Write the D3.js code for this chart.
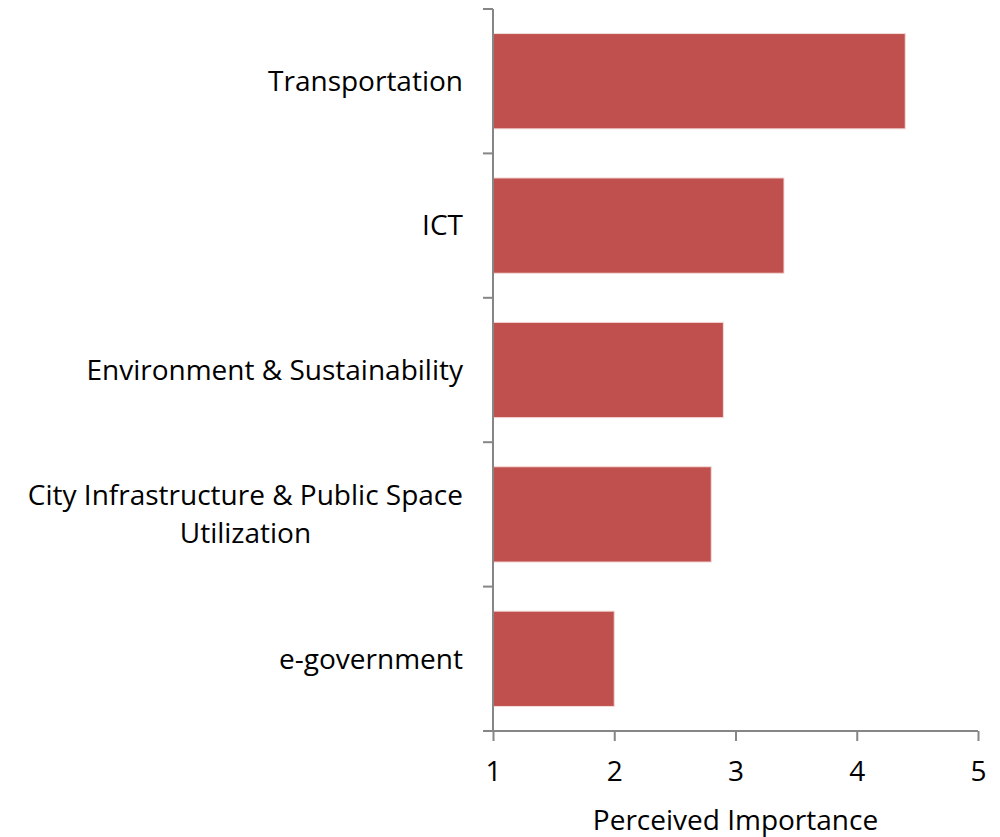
<!DOCTYPE html>
<html>
<head>
<meta charset="utf-8">
<script src="https://cdn.jsdelivr.net/npm/d3@7"></script>
<style>
  html, body { margin: 0; padding: 0; background: #fff; }
  svg text { font-family: "Open Sans", "Noto Sans", sans-serif; fill: #000; }
</style>
</head>
<body>
<svg id="chart" width="1000" height="837"></svg>
<script>
// Categories from top to bottom, with their perceived-importance scores
const categories = [
  "Transportation",
  "ICT",
  "Environment & Sustainability",
  "City Infrastructure & Public Space\nUtilization",
  "e-government"
];
const importance = [4.4, 3.4, 2.9, 2.8, 2.0];
const xTicks = [1, 2, 3, 4, 5];
const xTitle = "Perceived Importance";

const margin = { left: 493, right: 22, top: 9, bottom: 106 };
const width = 1000, height = 837;
const svg = d3.select("#chart");
const axisColor = "#868686";
const barColor = "#C0504D";

const x = d3.scaleLinear()
  .domain([1, 5])
  .range([margin.left, width - margin.right]);

const y = d3.scaleBand()
  .domain(categories)
  .range([margin.top, height - margin.bottom])
  .paddingInner(0.34)
  .paddingOuter(0.17);

// Bars start at the axis origin (value 1)
svg.append("g")
  .selectAll("rect")
  .data(categories)
  .join("rect")
  .attr("x", x(1))
  .attr("y", d => y(d))
  .attr("width", (d, i) => x(importance[i]) - x(1))
  .attr("height", y.bandwidth())
  .attr("fill", barColor)
  .attr("stroke", "#f4dcdb")
  .attr("stroke-width", 1);

// Vertical category axis: line plus tick marks at band boundaries
const yAxisG = svg.append("g");
yAxisG.append("line")
  .attr("x1", x(1)).attr("x2", x(1))
  .attr("y1", margin.top).attr("y2", height - margin.bottom)
  .attr("stroke", axisColor).attr("stroke-width", 2);
const step = y.step();
const bounds = d3.range(categories.length + 1).map(i => margin.top + i * step);
yAxisG.selectAll("line.tick")
  .data(bounds)
  .join("line")
  .attr("class", "tick")
  .attr("x1", x(1) - 10).attr("x2", x(1))
  .attr("y1", d => d).attr("y2", d => d)
  .attr("stroke", axisColor).attr("stroke-width", 2);

// Category labels: right-aligned block, multi-line labels centred within it
const labelRight = x(1) - 30;
const fontSize = 28;
const lineH = 38;
const labelG = svg.append("g");
categories.forEach(cat => {
  const lines = cat.split("\n");
  const cy = y(cat) + y.bandwidth() / 2;
  const t = labelG.append("text")
    .attr("font-size", fontSize)
    .attr("text-anchor", "end");
  lines.forEach((ln, j) => {
    t.append("tspan")
      .attr("x", labelRight)
      .attr("y", cy + (j - (lines.length - 1) / 2) * lineH)
      .attr("dy", "0.35em")
      .text(ln);
  });
  if (lines.length > 1) {
    const spans = t.selectAll("tspan").nodes();
    const maxW = d3.max(spans, s => s.getComputedTextLength());
    const cx = labelRight - maxW / 2;
    t.attr("text-anchor", "middle");
    t.selectAll("tspan").attr("x", cx);
  }
});

// Horizontal value axis
const xAxis = d3.axisBottom(x)
  .tickValues(xTicks)
  .tickFormat(d3.format("d"))
  .tickSizeInner(10)
  .tickSizeOuter(0)
  .tickPadding(20);
const xg = svg.append("g")
  .attr("transform", `translate(0,${height - margin.bottom})`)
  .call(xAxis);
xg.select(".domain")
  .attr("d", `M${x(1) - 10},0H${x(5)}`)
  .attr("stroke", axisColor).attr("stroke-width", 2);
xg.selectAll(".tick line").attr("stroke", axisColor).attr("stroke-width", 2);
xg.selectAll(".tick text")
  .attr("font-size", fontSize)
  .attr("font-family", "'Open Sans', sans-serif")
  .attr("fill", "#000");

svg.append("text")
  .attr("x", (x(1) + x(5)) / 2)
  .attr("y", 830)
  .attr("text-anchor", "middle")
  .attr("font-size", fontSize)
  .text(xTitle);
</script>
</body>
</html>
